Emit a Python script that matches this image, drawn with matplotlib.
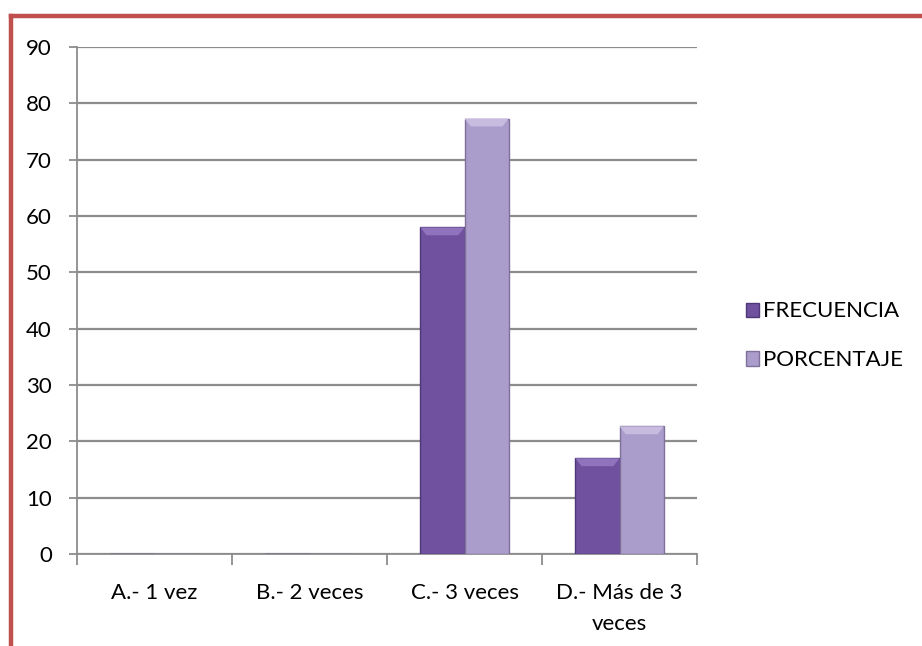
import numpy as np
import matplotlib.pyplot as plt
from matplotlib.lines import Line2D
from matplotlib.patches import Patch, Polygon

categories = ["A.- 1 vez", "B.- 2 veces", "C.- 3 veces", "D.- Más de 3\nveces"]
frecuencia = [0, 0, 58, 17]
porcentaje = [0, 0, 77.33, 22.67]
series_names = ["FRECUENCIA", "PORCENTAJE"]
colors = ["#6f519f", "#aa9ccb"]
tops = ["#8f74bd", "#c7bce0"]
edges = ["#4e3878", "#7f7199"]


def main():
    plt.rcParams["font.family"] = ["Lato", "DejaVu Sans"]
    fs = 16
    fig = plt.figure(figsize=(9.22, 6.46), dpi=100)
    ax = fig.add_axes([0.0835, 0.1424, 0.6725, 0.7846])

    # red frame (top and left edges visible in the reference)
    fig.add_artist(Line2D([0.0119, 0.0119], [0.0, 0.975], color="#c0504d",
                          lw=3.2, transform=fig.transFigure, solid_capstyle="projecting"))
    fig.add_artist(Line2D([0.0119, 1.0], [0.975, 0.975], color="#c0504d",
                          lw=3.2, transform=fig.transFigure, solid_capstyle="projecting"))

    x = np.arange(len(categories))
    w = 0.285
    bev_x = 0.04   # bevel size in category units
    bev_y = 1.4    # bevel size in data units
    for vals, off, c, tc, ec in [(frecuencia, -w / 2, colors[0], tops[0], edges[0]),
                                 (porcentaje, w / 2, colors[1], tops[1], edges[1])]:
        bars = ax.bar(x + off, vals, width=w, color=c, edgecolor=ec, linewidth=1, zorder=3)
        # light top bevel like the office chart style
        for b in bars:
            h = b.get_height()
            if h <= 0:
                continue
            x0, x1 = b.get_x(), b.get_x() + b.get_width()
            ax.add_patch(Polygon([(x0, h), (x1, h), (x1 - bev_x, h - bev_y), (x0 + bev_x, h - bev_y)],
                                 closed=True, facecolor=tc, edgecolor="none", zorder=4))

    ax.set_xlim(-0.5, len(categories) - 0.5)
    ax.set_ylim(0, 90)
    ax.set_yticks(range(0, 91, 10))
    ax.yaxis.grid(True, color="#8c8c8c", lw=1.6, zorder=0)
    ax.set_axisbelow(True)

    ax.set_xticks(x)
    ax.set_xticklabels(categories, fontsize=fs, linespacing=1.7)
    ax.set_xticks(np.arange(len(categories) + 1) - 0.5, minor=True)
    ax.tick_params(axis="x", which="major", length=0, pad=21)
    ax.tick_params(axis="x", which="minor", length=8, color="#8c8c8c", width=1.3)
    ax.tick_params(axis="y", length=6, color="#8c8c8c", width=1.3, labelsize=fs, pad=12)

    for s in ["top", "right"]:
        ax.spines[s].set_visible(False)
    for s in ["left", "bottom"]:
        ax.spines[s].set_color("#8c8c8c")
        ax.spines[s].set_linewidth(1.3)

    handles = [Patch(facecolor=colors[i], edgecolor=edges[i]) for i in range(2)]
    fig.legend(handles, series_names, loc="center left", bbox_to_anchor=(0.787, 0.48),
               frameon=False, fontsize=fs, handlelength=0.6, handleheight=0.6,
               handletextpad=0.2, labelspacing=1.3)

    fig.savefig("out.png", dpi=100)


if __name__ == "__main__":
    main()
